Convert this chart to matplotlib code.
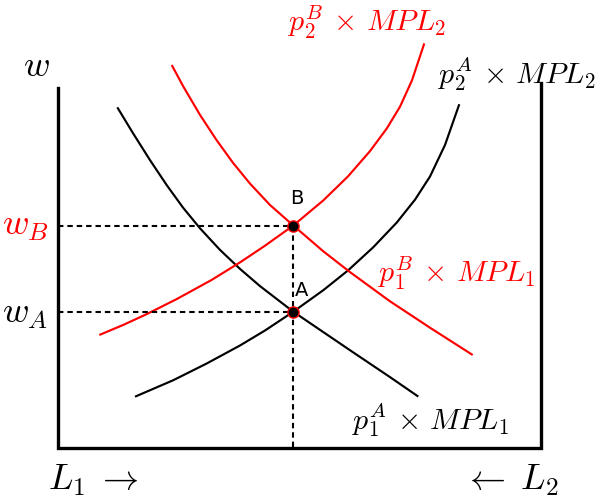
import matplotlib
matplotlib.use("Agg")
import matplotlib.pyplot as plt

plt.rcParams['mathtext.fontset'] = 'cm'

# Curve samples (diagram pixel coordinates, y down)
mpl1_A_x = [117.3, 133, 150, 166.7, 183, 200, 220, 240, 260, 280, 293.3, 323.3, 355, 390, 418.3]
mpl1_A_y = [107.3, 133.2, 160.1, 185.1, 207.6, 228.3, 249.9, 268.9, 286.1, 301.5, 311.7, 332.1, 353.6, 377.1, 396.6]
mpl1_B_x = [171.7, 183.3, 200, 216.7, 233.3, 250, 270, 293.3, 323.3, 350, 390, 430, 472.7]
mpl1_B_y = [65, 86.5, 114.9, 140.3, 163.2, 183.6, 205, 225.5, 251.3, 272.1, 301.3, 327.7, 355]
mpl2_A_x = [135, 173.3, 206.7, 240, 265, 293.3, 323.3, 348.3, 373.3, 396.7, 415, 430, 445, 459.3]
mpl2_A_y = [396.7, 380.2, 363.5, 345.5, 330.5, 311.7, 290.2, 270.2, 247.2, 222.6, 199.7, 176.5, 145, 104.2]
mpl2_B_x = [99.3, 123.3, 146.7, 176.7, 211.7, 240, 265, 293.3, 323.3, 348, 370, 386.7, 400, 412, 424.3]
mpl2_B_y = [335, 324.9, 314.1, 299.1, 279.9, 262.4, 245.7, 225.5, 200.4, 176.4, 151.1, 128.6, 106.7, 80.3, 43.4]

eq_x = [293.3, 293.3]
eq_y = [311.7, 225.5]
eq_labels = ["A", "B"]

fig = plt.figure(figsize=(5.96, 4.97), dpi=100)
ax = fig.add_axes([0, 0, 1, 1])
ax.set_xlim(0, 596)
ax.set_ylim(497, 0)
ax.axis('off')

# box
ax.plot([58, 58, 541, 541], [88, 448, 448, 83], color='black', lw=2.4,
        solid_joinstyle='miter')

# curves
kw = dict(lw=1.55, solid_joinstyle='round', solid_capstyle='butt')
ax.plot(mpl1_A_x, mpl1_A_y, color='black', **kw)
ax.plot(mpl2_A_x, mpl2_A_y, color='black', **kw)
ax.plot(mpl1_B_x, mpl1_B_y, color='red', **kw)
ax.plot(mpl2_B_x, mpl2_B_y, color='red', **kw)

# dashed guides
dkw = dict(color='black', lw=1.5, ls=(0, (2.6, 1.9)))
for y in eq_y:
    ax.plot([58, eq_x[0]], [y, y], **dkw)
ax.plot([eq_x[0], eq_x[0]], [min(eq_y), 448], **dkw)

# equilibrium points
ax.scatter(eq_x, eq_y, s=65, color='black', edgecolor='red', linewidth=1.0, zorder=5)
ax.text(302, 290, eq_labels[0], fontsize=14, ha='center', va='center')
ax.text(297, 199, eq_labels[1], fontsize=14, ha='center', va='center')

# axis labels
ax.text(36, 66, r"$w$", fontsize=26, ha='center', va='center')
ax.text(25, 226, r"$w_B$", fontsize=26, ha='center', va='center', color='red')
ax.text(25, 314, r"$w_A$", fontsize=26, ha='center', va='center')
ax.text(93, 480, r"$L_1\;\rightarrow$", fontsize=26, ha='center', va='center')
ax.text(511, 480, r"$\leftarrow\;L_2$", fontsize=26, ha='center', va='center')

# curve labels
fs = 21.5
ax.text(367, 22, r"$p_2^B\,\times\,MPL_2$", fontsize=fs, ha='center', va='center', color='red')
ax.text(517, 74, r"$p_2^A\,\times\,MPL_2$", fontsize=fs, ha='center', va='center')
ax.text(457, 273, r"$p_1^B\,\times\,MPL_1$", fontsize=fs, ha='center', va='center', color='red')
ax.text(431, 420, r"$p_1^A\,\times\,MPL_1$", fontsize=fs, ha='center', va='center')

fig.savefig("out.png", dpi=100)
